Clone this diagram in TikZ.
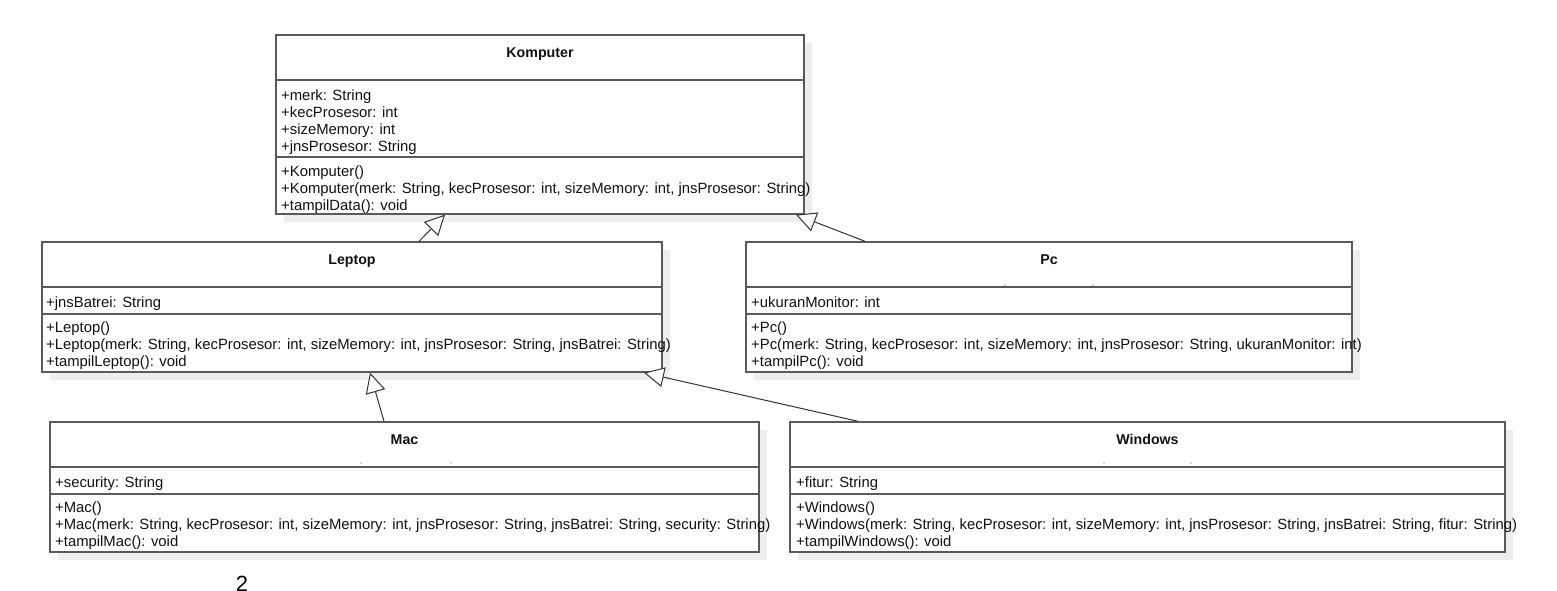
\documentclass[tikz,border=0pt]{standalone}
\usepackage{fontspec}
\setmainfont{Liberation Sans}
\usetikzlibrary{arrows.meta,shadows}
\definecolor{boxline}{HTML}{5A5A5A}
\definecolor{shade}{HTML}{EEEEEE}
\definecolor{txtcol}{HTML}{111111}
\tikzset{
  classbox/.style={draw=boxline, line width=1.4pt, fill=white, rectangle, inner sep=0pt,
    general shadow={fill=shade, shadow xshift=8pt, shadow yshift=-8pt}},
  divider/.style={draw=boxline, line width=1.4pt},
  txt/.style={inner sep=0pt, text=txtcol, align=left, anchor=base west, font=\fontsize{14.85}{17}\selectfont},
  ttl/.style={inner sep=0pt, text=txtcol, anchor=base, font=\fontsize{14.2}{17}\selectfont\bfseries},
  inh/.style={draw=black!80, line width=1pt, -{Triangle[length=20pt,width=20pt,fill=white,line width=1pt]}},
  speck/.style={fill=gray!60, circle, inner sep=0.6pt}
}
\begin{document}
\begin{tikzpicture}[x=1pt,y=-1pt]
\useasboundingbox (0,0) rectangle (1557,590);
% Boxes
\node[classbox, minimum width=528pt, minimum height=179pt] (komp) at (540,124.5) {};
\node[classbox, minimum width=620pt, minimum height=130pt] (lep) at (352,307) {};
\node[classbox, minimum width=606pt, minimum height=130pt] (pc) at (1049,307) {};
\node[classbox, minimum width=709pt, minimum height=130pt] (mac) at (404.5,487) {};
\node[classbox, minimum width=715pt, minimum height=130pt] (win) at (1147.5,487) {};
% Dividers
\draw[divider] (276,80) -- (804,80) (276,157) -- (804,157);
\draw[divider] (42,287) -- (662,287) (42,314) -- (662,314);
\draw[divider] (746,287) -- (1352,287) (746,314) -- (1352,314);
\draw[divider] (50,467) -- (759,467) (50,494) -- (759,494);
\draw[divider] (790,467) -- (1505,467) (790,494) -- (1505,494);
% Komputer (anchors at baseline of last line)
\node[ttl] (kt) at (540,57) {Komputer};
\node[txt] (ka) at (281,151) {+merk: String\\+kecProsesor: int\\+sizeMemory: int\\+jnsProsesor: String};
\node[txt] (km) at (281,210) {+Komputer()\\+Komputer(merk: String, kecProsesor: int, sizeMemory: int, jnsProsesor: String)\\+tampilData(): void};
% Leptop
\node[ttl] (lt) at (352,264) {Leptop};
\node[txt] (la) at (46,307) {+jnsBatrei: String};
\node[txt] (lm) at (46,366) {+Leptop()\\+Leptop(merk: String, kecProsesor: int, sizeMemory: int, jnsProsesor: String, jnsBatrei: String)\\+tampilLeptop(): void};
% Pc
\node[ttl] (pt) at (1049,264) {Pc};
\node[txt] (pa) at (751,307) {+ukuranMonitor: int};
\node[txt] (pm) at (751,366) {+Pc()\\+Pc(merk: String, kecProsesor: int, sizeMemory: int, jnsProsesor: String, ukuranMonitor: int)\\+tampilPc(): void};
% Mac
\node[ttl] (mt) at (404.5,444) {Mac};
\node[txt] (ma) at (55,487) {+security: String};
\node[txt] (mm) at (55,546) {+Mac()\\+Mac(merk: String, kecProsesor: int, sizeMemory: int, jnsProsesor: String, jnsBatrei: String, security: String)\\+tampilMac(): void};
% Windows
\node[ttl] (wt) at (1147.5,444) {Windows};
\node[txt] (wa) at (796,487) {+fitur: String};
\node[txt] (wm) at (796,546) {+Windows()\\+Windows(merk: String, kecProsesor: int, sizeMemory: int, jnsProsesor: String, jnsBatrei: String, fitur: String)\\+tampilWindows(): void};
% specks
\node[speck] (s1) at (1005,285) {};
\node[speck] (s2) at (1093,285) {};
\node[speck] (s3) at (361,463) {};
\node[speck] (s4) at (451,463) {};
\node[speck] (s5) at (1104,463) {};
\node[speck] (s6) at (1191,463) {};
% Generalizations
\draw[inh] ([xshift=67pt]lep.north) -- ([xshift=-95pt]komp.south);
\draw[inh] ([xshift=-184pt]pc.north) -- ([xshift=256pt]komp.south);
\draw[inh] ([xshift=-20.5pt]mac.north) -- ([xshift=18pt]lep.south);
\draw[inh] ([xshift=-289.5pt]win.north) -- ([xshift=292pt]lep.south);
% stray digit (cut at the lower edge, as in the reference)
\node[inner sep=0pt, anchor=base, font=\fontsize{22}{24}\selectfont] (two) at (242,591) {2};
\end{tikzpicture}
\end{document}
